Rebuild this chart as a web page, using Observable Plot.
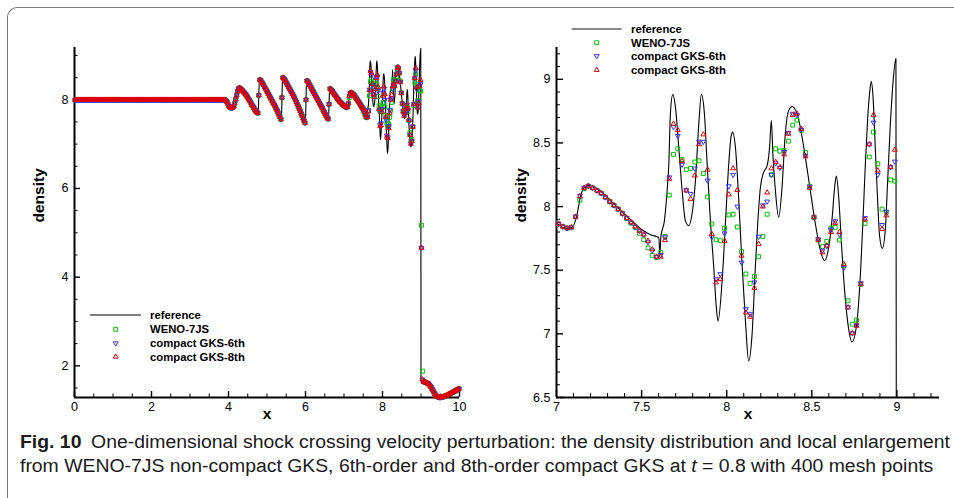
<!DOCTYPE html>
<html><head><meta charset="utf-8">
<script src="https://cdn.jsdelivr.net/npm/d3@7"></script>
<script src="https://cdn.jsdelivr.net/npm/@observablehq/plot@0.6"></script>
<style>
body{margin:0;background:#fff;width:954px;height:498px;overflow:hidden;position:relative;font-family:"Liberation Sans",Arial,sans-serif}
#frame{position:absolute;left:7px;top:7px;width:1000px;height:600px;border-top:1px solid #7a7a7a;border-left:1px solid #7a7a7a;border-top-left-radius:10px;box-sizing:border-box}
#left{position:absolute;left:0;top:0}
#right{position:absolute;left:480px;top:0}
.cap{position:absolute;left:20px;white-space:nowrap;font-family:"Liberation Sans Narrow","Liberation Sans",Arial,sans-serif;font-size:18px;line-height:18px;color:#1a1a1a;transform-origin:0 0}
</style></head><body>
<div id="frame"></div><div id="left"></div><div id="right"></div>
<div class="cap" id="cap1" style="top:433px"><b>Fig. 10</b>&ensp;One-dimensional shock crossing velocity perturbation: the density distribution and local enlargement</div>
<div class="cap" id="cap2" style="top:457px">from WENO-7JS non-compact GKS, 6th-order and 8th-order compact GKS at <i>t</i> = 0.8 with 400 mesh points</div>
<script>
// ---------- data ----------
const meshCount = 400, meshStart = 0, meshEnd = 10;
const legendLabels = ["reference", "WENO-7JS", "compact GKS-6th", "compact GKS-8th"];

// cells x < 3.9 (all schemes coincide)
const rhoUpstream = [
8,8,8,8,8,8,8,8,8,8,8,8,
8,8,8,8,8,8,8,8,8,8,8,8,
8,8,8,8,8,8,8,8,8,8,8,8,
8,8,8,8,8,8,8,8,8,8,8,8,
8,8,8,8,8,8,8,8,8,8,8,8,
8,8,8,8,8,8,8,8,8,8,8,8,
8,8,8,8,8,8,8,8,8,8,8,8,
8,8,8,8,8,8,8,8,8,8,8,8,
8,8,8,8,8,8,8,8,8,8,8,8,
8,8,8,8,8,8,8,8,8,8,8,8,
8,8,8,8,8,8,8,8,8,8,8,8,
8,8,8,8,8,8,8,8,8,8,8,8,
8,8,8,8,8,8,8,8,8,8,8,8];
// cells 3.9 < x < 7 (all schemes coincide)
const rhoSawtooth = [
8.0,7.98,7.95,7.9,7.86,7.83,7.82,7.82,7.83,7.86,
7.92,8.01,8.1,8.19,8.25,8.27,8.25,8.23,8.21,8.18,
8.16,8.13,8.10,8.07,8.03,8.0,7.96,7.92,7.88,7.85,
7.81,7.77,7.74,7.72,7.70,8.10,8.45,8.44,8.40,8.37,
8.33,8.29,8.25,8.21,8.17,8.13,8.09,8.05,8.01,7.97,
7.93,7.89,7.85,7.80,7.76,7.71,7.66,7.61,7.56,8.05,
8.50,8.48,8.45,8.41,8.37,8.33,8.29,8.25,8.21,8.17,
8.13,8.09,8.05,8.00,7.95,7.90,7.85,7.80,7.75,7.69,
7.64,7.58,7.53,7.48,8.0,8.43,8.41,8.37,8.33,8.29,
8.25,8.21,8.17,8.13,8.09,8.05,8.01,7.97,7.93,7.89,
7.85,7.81,7.76,7.72,7.68,7.64,7.60,7.57,7.90,8.25,
8.23,8.20,8.17,8.14,8.11,8.08,8.05,8.02,7.99,7.96,
7.94,7.92,7.89,7.875];
// cells 7 < x < 9
const wenoZoom = [
7.864,7.843,7.83,7.837,7.92,8.05,8.14,8.16,8.147,8.126,
8.105,8.073,8.04,8.01,7.98,7.945,7.905,7.87,7.835,7.79,
7.74,7.675,7.617,7.6,7.64,7.765,8.09,8.41,8.454,8.37,
8.29,8.3,8.35,8.36,8.26,8.076,7.864,7.74,7.732,7.83,
7.934,7.94,7.84,7.646,7.47,7.396,7.45,7.606,7.764,7.94,
8.25,8.454,8.436,8.44,8.514,8.64,8.68,8.6,8.425,8.16,
7.916,7.738,7.685,7.727,7.83,7.837,7.737,7.535,7.26,7.076,
7.108,7.39,7.868,8.39,8.585,8.336,7.98,7.955,8.21,8.2];
const gks6Zoom = [
7.864,7.843,7.83,7.837,7.92,8.085,8.147,8.163,8.147,8.126,
8.105,8.073,8.04,8.01,7.98,7.945,7.91,7.876,7.843,7.81,
7.78,7.72,7.655,7.606,7.62,7.76,8.23,8.625,8.555,8.33,
8.13,8.1,8.3,8.51,8.51,8.205,7.76,7.43,7.47,7.79,
8.16,8.25,8.0,7.56,7.195,7.155,7.405,7.764,8.01,8.04,
8.25,8.34,8.305,8.43,8.58,8.73,8.72,8.605,8.4,8.157,
7.916,7.743,7.655,7.69,7.82,7.885,7.78,7.52,7.21,7.005,
7.068,7.398,7.91,8.49,8.66,8.25,7.856,7.96,8.31,8.354];
const gks8Zoom = [
7.864,7.843,7.83,7.837,7.92,8.08,8.147,8.163,8.147,8.126,
8.105,8.073,8.04,8.01,7.98,7.945,7.91,7.876,7.843,7.81,
7.78,7.73,7.664,7.606,7.606,7.737,8.218,8.65,8.6,8.357,
8.126,8.06,8.244,8.49,8.567,8.29,7.785,7.404,7.43,7.73,
8.095,8.3,8.13,7.614,7.168,7.134,7.36,7.706,8.0,8.11,
8.3,8.35,8.31,8.41,8.572,8.72,8.73,8.61,8.394,8.147,
7.916,7.738,7.64,7.693,7.8,7.87,7.8,7.548,7.207,7.005,
7.063,7.39,7.898,8.49,8.72,8.283,7.824,7.93,8.31,8.446];
// two cells at the shock
const wenoShock = [5.17, 1.88];
const gks6Shock = [4.66, 1.69];
const gks8Shock = [4.66, 1.69];
// cells behind the shock
const rhoTail = [
1.642,1.636,1.628,1.62,1.61,1.595,1.575,1.55,1.52,1.48,
1.44,1.40,1.36,1.33,1.31,1.297,1.29,1.287,1.288,1.292,
1.297,1.304,1.312,1.321,1.331,1.341,1.352,1.363,1.374,1.386,
1.398,1.41,1.422,1.434,1.446,1.458,1.47,1.482];
// reference solution (knots of the fine-grid curve)
const referenceCurve = [
[0,8],[3.88,8],[3.95,7.97],[4.0,7.88],[4.06,7.82],[4.1,7.82],[4.15,7.87],[4.2,8.03],[4.25,8.22],[4.285,8.27],
[4.4,8.17],[4.5,8.05],[4.6,7.9],[4.7,7.75],[4.775,7.695],[4.79,8.2],[4.805,8.46],[4.83,8.455],[4.9,8.34],[5.0,8.18],
[5.1,8.02],[5.2,7.86],[5.3,7.67],[5.375,7.54],[5.39,8.1],[5.405,8.5],[5.44,8.49],[5.5,8.38],[5.6,8.22],[5.7,8.05],
[5.8,7.86],[5.9,7.65],[5.998,7.47],[6.013,8.0],[6.027,8.43],[6.06,8.41],[6.1,8.34],[6.2,8.17],[6.3,8.01],[6.4,7.85],
[6.5,7.68],[6.598,7.565],[6.613,7.95],[6.627,8.25],[6.66,8.235],[6.7,8.18],[6.8,8.05],[6.9,7.95],
[7.0,7.87],[7.053,7.83],[7.092,7.835],[7.121,7.94],[7.141,8.08],[7.16,8.145],[7.18,8.165],[7.25,8.13],[7.337,8.02],
[7.434,7.90],[7.49,7.83],[7.53,7.795],[7.56,7.775],[7.592,7.763],[7.601,7.757],[7.607,7.62],[7.613,7.76],[7.634,7.89],
[7.65,8.126],[7.66,8.336],
[7.669,8.73],[7.683,8.88],[7.699,8.78],[7.718,8.467],[7.738,8.126],[7.757,7.89],[7.777,7.85],[7.796,7.94],[7.816,8.2],
[7.836,8.65],[7.851,8.88],[7.869,8.73],[7.885,8.336],[7.904,7.89],[7.924,7.52],[7.939,7.207],[7.949,7.10],[7.973,7.417],
[7.992,7.86],[8.012,8.336],[8.025,8.546],[8.035,8.585],[8.051,8.467],[8.07,8.07],[8.09,7.548],[8.11,7.10],[8.129,6.787],
[8.149,6.997],[8.168,7.52],[8.182,7.863],[8.198,8.152],[8.217,8.27],[8.237,8.32],[8.252,8.467],[8.262,8.677],[8.272,8.388],
[8.286,8.126],[8.305,7.916],[8.325,8.152],[8.344,8.572],[8.364,8.756],[8.384,8.787],[8.413,8.73],[8.432,8.625],[8.462,8.388],
[8.491,8.126],[8.521,7.863],[8.546,7.68],[8.575,7.575],[8.599,7.68],[8.618,7.89],[8.634,8.152],[8.644,8.239],[8.658,8.073],
[8.673,7.732],[8.691,7.365],[8.71,7.10],[8.736,6.937],[8.761,7.05],[8.781,7.365],[8.8,7.877],[8.814,8.323],[8.828,8.69],
[8.84,8.90],[8.849,8.984],[8.859,8.874],[8.873,8.454],[8.887,8.034],[8.898,7.77],[8.914,7.672],[8.932,7.824],[8.945,8.19],
[8.961,8.638],[8.977,8.98],[8.994,9.163],[9.0,1.66],[9.05,1.645],[9.1,1.63],[9.15,1.612],[9.2,1.585],[9.25,1.535],
[9.3,1.46],[9.35,1.38],[9.4,1.315],[9.45,1.293],[9.5,1.287],[9.6,1.31],[9.7,1.35],[9.8,1.395],[9.9,1.44],[10,1.49]];

// axes
const leftXDomain = [0, 10], leftYDomain = [1.285, 9.18];
const leftXTicks = [0, 2, 4, 6, 8, 10];
const leftXMinor = [0.5,1,1.5,2.5,3,3.5,4.5,5,5.5,6.5,7,7.5,8.5,9,9.5];
const leftYTicks = [2, 4, 6, 8];
const leftYMinor = [1.5,2.5,3,3.5,4.5,5,5.5,6.5,7,7.5,8.5,9];
const rightXDomain = [7, 9.25], rightYDomain = [6.5, 9.25];
const rightXTicks = [7, 7.5, 8, 8.5, 9];
const rightXMinor = [7.1,7.2,7.3,7.4,7.6,7.7,7.8,7.9,8.1,8.2,8.3,8.4,8.6,8.7,8.8,8.9,9.1,9.2];
const rightYTicks = [6.5, 7, 7.5, 8, 8.5, 9];
const rightYMinor = [6.6,6.7,6.8,6.9,7.1,7.2,7.3,7.4,7.6,7.7,7.8,7.9,8.1,8.2,8.3,8.4,8.6,8.7,8.8,8.9,9.1,9.2];

// ---------- build ----------
const shared = rhoUpstream.concat(rhoSawtooth);
const series = [
  shared.concat(wenoZoom, wenoShock, rhoTail),
  shared.concat(gks6Zoom, gks6Shock, rhoTail),
  shared.concat(gks8Zoom, gks8Shock, rhoTail)
];
series.forEach(s => { if (s.length !== meshCount) throw new Error("series length " + s.length); });
const cellX = i => meshStart + (i + 0.5) * (meshEnd - meshStart) / meshCount;
const pts = series.map(s => s.map((y, i) => ({x: cellX(i), y})));

const squareSym = {draw(c){ const s = 1.95; c.moveTo(-s,-s); c.lineTo(s,-s); c.lineTo(s,s); c.lineTo(-s,s); c.closePath(); }};
const triUpSym = {draw(c){ const w = 2.45, h = 4.3; c.moveTo(0,-h*2/3); c.lineTo(w,h/3); c.lineTo(-w,h/3); c.closePath(); }};
const triDownSym = {draw(c){ const w = 2.45, h = 4.3; c.moveTo(0,h*2/3); c.lineTo(w,-h/3); c.lineTo(-w,-h/3); c.closePath(); }};
const symbols = [squareSym, triDownSym, triUpSym];
const colors = ["#00c400", "#3333ff", "#e00000"];
const tickFont = '"Liberation Sans", Arial, sans-serif';
const fmt = d => String(d);

function axes(xd, yd, xt, xm, yt, ym, major, minor) {
  return [
    Plot.axisX(xm, {anchor: "bottom", tickSize: -minor, tickFormat: () => "", strokeWidth: 1, label: null}),
    Plot.axisY(ym, {anchor: "left", tickSize: -minor, tickFormat: () => "", strokeWidth: 1, label: null}),
    Plot.axisX(xt, {anchor: "bottom", tickSize: -major, tickPadding: major + 5, strokeWidth: 1.4, label: null, fontSize: 12.5, tickFormat: fmt}),
    Plot.axisY(yt, {anchor: "left", tickSize: -major, tickPadding: major + 6, strokeWidth: 1.4, label: null, fontSize: 12.5, tickFormat: fmt}),
    Plot.ruleX([xd[0]], {strokeWidth: 2, stroke: "#000"}),
    Plot.ruleY([yd[0]], {strokeWidth: 2, stroke: "#000"})
  ];
}
function dataMarks(clip) {
  return [
    Plot.line(referenceCurve, {x: d => d[0], y: d => d[1], curve: "monotone-x", stroke: "#000", strokeWidth: 1.1, clip}),
    ...pts.map((p, k) => Plot.dot(p, {x: "x", y: "y", symbol: symbols[k], stroke: colors[k], fill: "none", strokeWidth: 1, clip}))
  ];
}
function labels() {
  return [
    Plot.text(["density"], {text: d => d, frameAnchor: "left", dx: -35, rotate: -90, fontWeight: "bold", fontSize: 15.5, fontFamily: tickFont}),
    Plot.text(["x"], {text: d => d, frameAnchor: "bottom", dy: 21, fontWeight: "bold", fontSize: 15.5, fontFamily: tickFont})
  ];
}
const style = {background: "transparent", fontFamily: tickFont, fontSize: "12.5px", color: "#000", overflow: "visible", maxWidth: "none"};

const leftPlot = Plot.plot({
  width: 480, height: 430, marginLeft: 74, marginRight: 21, marginTop: 47, marginBottom: 33,
  x: {domain: leftXDomain, axis: null}, y: {domain: leftYDomain, axis: null}, style,
  marks: [...axes(leftXDomain, leftYDomain, leftXTicks, leftXMinor, leftYTicks, leftYMinor, 6, 3.5), ...dataMarks(false), ...labels()]
});
const rightPlot = Plot.plot({
  width: 474, height: 430, marginLeft: 76, marginRight: 15, marginTop: 47, marginBottom: 33,
  x: {domain: rightXDomain, axis: null}, y: {domain: rightYDomain, axis: null}, style,
  marks: [...axes(rightXDomain, rightYDomain, rightXTicks, rightXMinor, rightYTicks, rightYMinor, 7, 4), ...dataMarks(true), ...labels()]
});
document.getElementById("left").appendChild(leftPlot);
document.getElementById("right").appendChild(rightPlot);

function legend(svg, o) {
  const g = d3.select(svg).append("g").attr("font-family", tickFont).attr("font-weight", "bold").attr("font-size", 11.3).attr("text-anchor", "start");
  g.append("line").attr("x1", o.lx1).attr("x2", o.lx2).attr("y1", o.ly).attr("y2", o.ly).attr("stroke", o.lineColor).attr("stroke-width", o.lineWidth);
  legendLabels.forEach((t, i) => {
    g.append("text").attr("x", o.tx).attr("y", o.base[i]).attr("fill", "#000").attr("text-anchor", "start").text(t);
    if (i > 0) g.append("path").attr("d", d3.symbol(symbols[i-1])()).attr("transform", `translate(${o.mx},${o.my[i-1]})`).attr("fill", "none").attr("stroke", colors[i-1]).attr("stroke-width", 1);
  });
}
legend(leftPlot, {lx1: 90, lx2: 141, ly: 315, lineColor: "#000", lineWidth: 1.2, tx: 150, base: [319, 333.3, 346.8, 360.5], mx: 115.7, my: [329.3, 343.3, 356.7]});
legend(rightPlot, {lx1: 91.7, lx2: 141.7, ly: 29, lineColor: "#666", lineWidth: 1.6, tx: 151, base: [32.8, 46.6, 60, 73.8], mx: 116.7, my: [42.7, 56, 70]});

// caption width fitting
const c1 = document.getElementById("cap1"), c2 = document.getElementById("cap2");
const w1 = c1.getBoundingClientRect().width;
const sc = 930 / w1;
c1.style.transform = `scaleX(${sc})`;
c2.style.transform = `scaleX(${sc})`;
</script>
</body></html>
